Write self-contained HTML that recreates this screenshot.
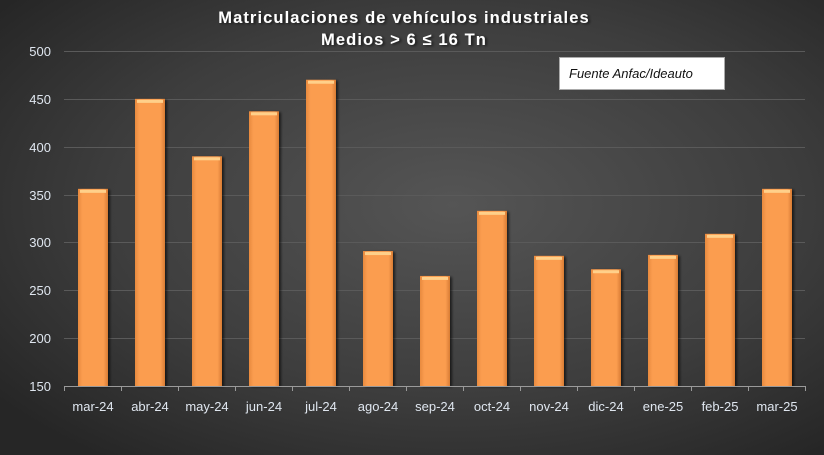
<!DOCTYPE html>
<html><head><meta charset="utf-8"><style>
html,body{margin:0;padding:0;width:824px;height:455px;overflow:hidden;background:#2a2a2a}
</style></head><body>
<svg width="824" height="455" xmlns="http://www.w3.org/2000/svg" font-family="Liberation Sans, sans-serif">
<defs>
<radialGradient id="bg" cx="0.55" cy="0.45" r="0.7">
<stop offset="0" stop-color="#555555"/><stop offset="0.6" stop-color="#3d3d3d"/><stop offset="1" stop-color="#262626"/>
</radialGradient>
<linearGradient id="bar" x1="0" x2="1" y1="0" y2="0">
<stop offset="0" stop-color="#e88a3e"/><stop offset="0.15" stop-color="#fb9d50"/><stop offset="0.85" stop-color="#fb9d50"/><stop offset="1" stop-color="#d87c34"/>
</linearGradient>
<filter id="sh" x="-20%" y="-20%" width="150%" height="150%"><feDropShadow dx="2" dy="1" stdDeviation="1.2" flood-color="#000" flood-opacity="0.6"/></filter>
</defs>
<rect width="824" height="455" fill="url(#bg)"/>
<g stroke="#5a5a5a" stroke-width="1">
<line x1="64" x2="805" y1="51.5" y2="51.5"/><line x1="64" x2="805" y1="99.5" y2="99.5"/>
<line x1="64" x2="805" y1="147.5" y2="147.5"/><line x1="64" x2="805" y1="195.5" y2="195.5"/>
<line x1="64" x2="805" y1="242.5" y2="242.5"/><line x1="64" x2="805" y1="290.5" y2="290.5"/>
<line x1="64" x2="805" y1="338.5" y2="338.5"/>
</g>
<g fill="#dfe6ef" font-size="13" text-anchor="end">
<text x="51" y="56">500</text><text x="51" y="104">450</text><text x="51" y="152">400</text>
<text x="51" y="200">350</text><text x="51" y="247">300</text><text x="51" y="295">250</text>
<text x="51" y="343">200</text><text x="51" y="391">150</text>
</g>
<g id="bars" filter="url(#sh)"></g>
<g stroke="#9a9a9a" stroke-width="1" id="ax"><line x1="64.5" x2="805.5" y1="386.5" y2="386.5"/></g>
<g fill="#dfe6ef" font-size="13" text-anchor="middle" id="xl"></g>
<rect x="559.5" y="57.5" width="165" height="32" fill="#fff" stroke="#aaa"/>
<text x="569" y="78" font-size="13" font-style="italic" fill="#111">Fuente Anfac/Ideauto</text>
<g font-weight="bold" font-size="16.5" fill="#fff" text-anchor="middle" letter-spacing="1.1" filter="url(#sh)">
<text x="404" y="23">Matriculaciones de vehículos industriales</text>
<text x="404" y="45">Medios &gt; 6 ≤ 16 Tn</text>
</g>
<script>
var v=[356,450,390,437,470,291,265,333,286,272,287,309,356];
var l=["mar-24","abr-24","may-24","jun-24","jul-24","ago-24","sep-24","oct-24","nov-24","dic-24","ene-25","feb-25","mar-25"];
var ns="http://www.w3.org/2000/svg",b=document.getElementById("bars"),x=document.getElementById("xl"),a=document.getElementById("ax");
for(var i=0;i<13;i++){var c=64.5+57*i+28.5,y=386-(v[i]-150)*0.9571;
var r=document.createElementNS(ns,"rect");r.setAttribute("x",c-15);r.setAttribute("y",y);r.setAttribute("width",30);r.setAttribute("height",386-y);r.setAttribute("fill","url(#bar)");b.appendChild(r);
var t=document.createElementNS(ns,"rect");t.setAttribute("x",c-13);t.setAttribute("y",y+1);t.setAttribute("width",26);t.setAttribute("height",3);t.setAttribute("fill","#ffd08a");b.appendChild(t);
var tx=document.createElementNS(ns,"text");tx.setAttribute("x",c);tx.setAttribute("y",411);tx.textContent=l[i];x.appendChild(tx);}
for(var i=0;i<=13;i++){var ln=document.createElementNS(ns,"line");var xx=64.5+57*i;ln.setAttribute("x1",xx);ln.setAttribute("x2",xx);ln.setAttribute("y1",386);ln.setAttribute("y2",391);a.appendChild(ln);}
</script>
</svg>
</body></html>
